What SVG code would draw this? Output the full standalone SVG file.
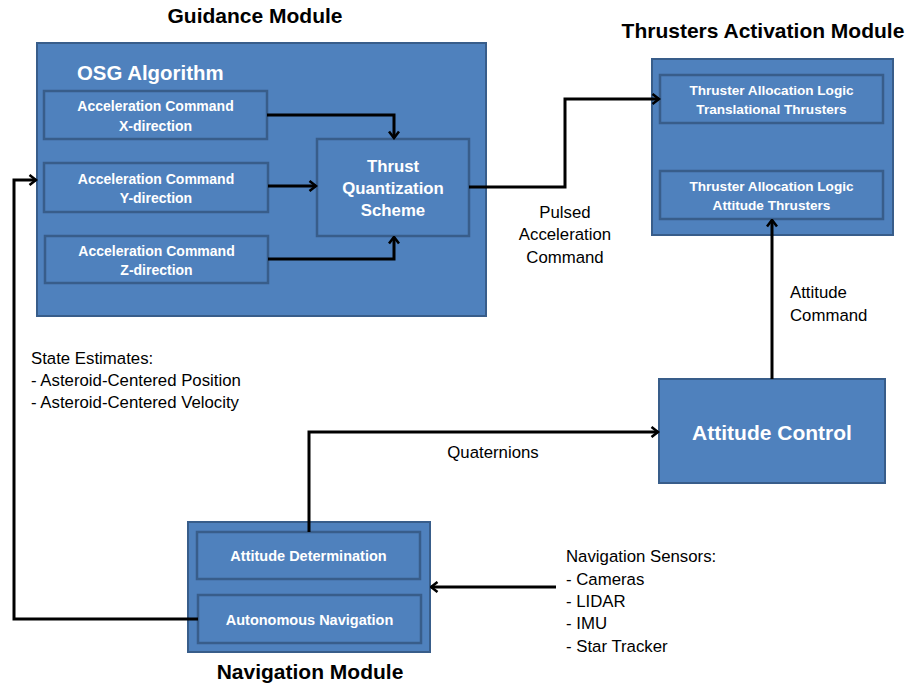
<svg xmlns="http://www.w3.org/2000/svg" width="907" height="685" viewBox="0 0 907 685">
<defs>
<marker id="ah" viewBox="0 0 12 12" markerWidth="12" markerHeight="12" refX="10.5" refY="6" orient="auto" markerUnits="userSpaceOnUse">
<path d="M4,1 L10.5,6 L4,11" fill="none" stroke="#000" stroke-width="2.6"/>
</marker>
</defs>
<style>
.box{fill:#4F81BD;stroke:#385D8A;stroke-width:2}
.in{fill:#4F81BD;stroke:#385D8A;stroke-width:2.5}
.bt{font-family:"Liberation Sans",Arial,sans-serif;font-weight:bold;fill:#fff;text-anchor:middle}
.t{font-family:"Liberation Sans",Arial,sans-serif;font-size:16.8px;fill:#000}
.title{font-family:"Liberation Sans",Arial,sans-serif;font-weight:bold;font-size:21px;fill:#000;text-anchor:middle}
.c{fill:none;stroke:#000;stroke-width:3}
</style>
<rect width="907" height="685" fill="#fff"/>

<g id="guidance">
<text class="title" x="255" y="23">Guidance Module</text>
<rect class="box" x="37" y="43" width="449" height="273"/>
<text class="bt" x="77" y="80" style="font-size:20.4px;text-anchor:start">OSG Algorithm</text>
</g>
<g id="accX">
<rect class="in" x="44" y="91" width="223" height="48"/>
<text class="bt" x="155.5" y="111" style="font-size:14px">Acceleration Command</text>
<text class="bt" x="155.5" y="131" style="font-size:14px">X-direction</text>
</g>
<g id="accY">
<rect class="in" x="44" y="163" width="224" height="49"/>
<text class="bt" x="156" y="184" style="font-size:14px">Acceleration Command</text>
<text class="bt" x="156" y="203" style="font-size:14px">Y-direction</text>
</g>
<g id="accZ">
<rect class="in" x="45" y="236" width="223" height="47"/>
<text class="bt" x="156.5" y="256" style="font-size:14px">Acceleration Command</text>
<text class="bt" x="156.5" y="275" style="font-size:14px">Z-direction</text>
</g>
<g id="thrust">
<rect class="in" x="317" y="139" width="152" height="97"/>
<text class="bt" x="393" y="172" style="font-size:16.8px">Thrust</text>
<text class="bt" x="393" y="194" style="font-size:16.8px">Quantization</text>
<text class="bt" x="393" y="216" style="font-size:16.8px">Scheme</text>
</g>

<g id="thrusters">
<text class="title" x="763" y="38">Thrusters Activation Module</text>
<rect class="box" x="652" y="59" width="241" height="176"/>
</g>
<g id="talTrans">
<rect class="in" x="660" y="75" width="223" height="48"/>
<text class="bt" x="771.5" y="95" style="font-size:13.6px">Thruster Allocation Logic</text>
<text class="bt" x="771.5" y="114" style="font-size:13.6px">Translational Thrusters</text>
</g>
<g id="talAtt">
<rect class="in" x="660" y="171" width="223" height="48"/>
<text class="bt" x="771.5" y="191" style="font-size:13.6px">Thruster Allocation Logic</text>
<text class="bt" x="771.5" y="210" style="font-size:13.6px">Attitude Thrusters</text>
</g>

<g id="attitudeControl">
<rect class="box" x="659" y="379" width="226" height="104"/>
<text class="bt" x="772" y="440" style="font-size:21px">Attitude Control</text>
</g>

<g id="navigation">
<rect class="box" x="188" y="522" width="242" height="130"/>
<text class="title" x="310" y="679">Navigation Module</text>
</g>
<g id="attDet">
<rect class="in" x="197" y="532" width="223" height="47"/>
<text class="bt" x="308.5" y="561" style="font-size:14.5px">Attitude Determination</text>
</g>
<g id="autoNav">
<rect class="in" x="198" y="595" width="223" height="48"/>
<text class="bt" x="309.5" y="625" style="font-size:14.5px">Autonomous Navigation</text>
</g>

<g id="connectors">
<polyline class="c" points="267,115 394,115 394,138" marker-end="url(#ah)"/>
<polyline class="c" points="268,186 316,186" marker-end="url(#ah)"/>
<polyline class="c" points="268,259 394,259 394,237" marker-end="url(#ah)"/>
<polyline class="c" points="469,187 565,187 565,99 659,99" marker-end="url(#ah)"/>
<polyline class="c" points="772,379 772,220" marker-end="url(#ah)"/>
<polyline class="c" points="309,532 309,432 658,432" marker-end="url(#ah)"/>
<polyline class="c" points="556,587 431,587" marker-end="url(#ah)"/>
<polyline class="c" points="198,619 14,619 14,180 36,180" marker-end="url(#ah)"/>
</g>

<g id="labels">
<text class="t" x="565" y="218" text-anchor="middle">Pulsed</text>
<text class="t" x="565" y="240" text-anchor="middle">Acceleration</text>
<text class="t" x="565" y="263" text-anchor="middle">Command</text>
<text class="t" x="790" y="298">Attitude</text>
<text class="t" x="790" y="321">Command</text>
<text class="t" x="493" y="458" text-anchor="middle">Quaternions</text>
<text class="t" x="31" y="364">State Estimates:</text>
<text class="t" x="31" y="386">- Asteroid-Centered Position</text>
<text class="t" x="31" y="408">- Asteroid-Centered Velocity</text>
<text class="t" x="566" y="562">Navigation Sensors:</text>
<text class="t" x="566" y="585">- Cameras</text>
<text class="t" x="566" y="607">- LIDAR</text>
<text class="t" x="566" y="629">- IMU</text>
<text class="t" x="566" y="652">- Star Tracker</text>
</g>
</svg>
